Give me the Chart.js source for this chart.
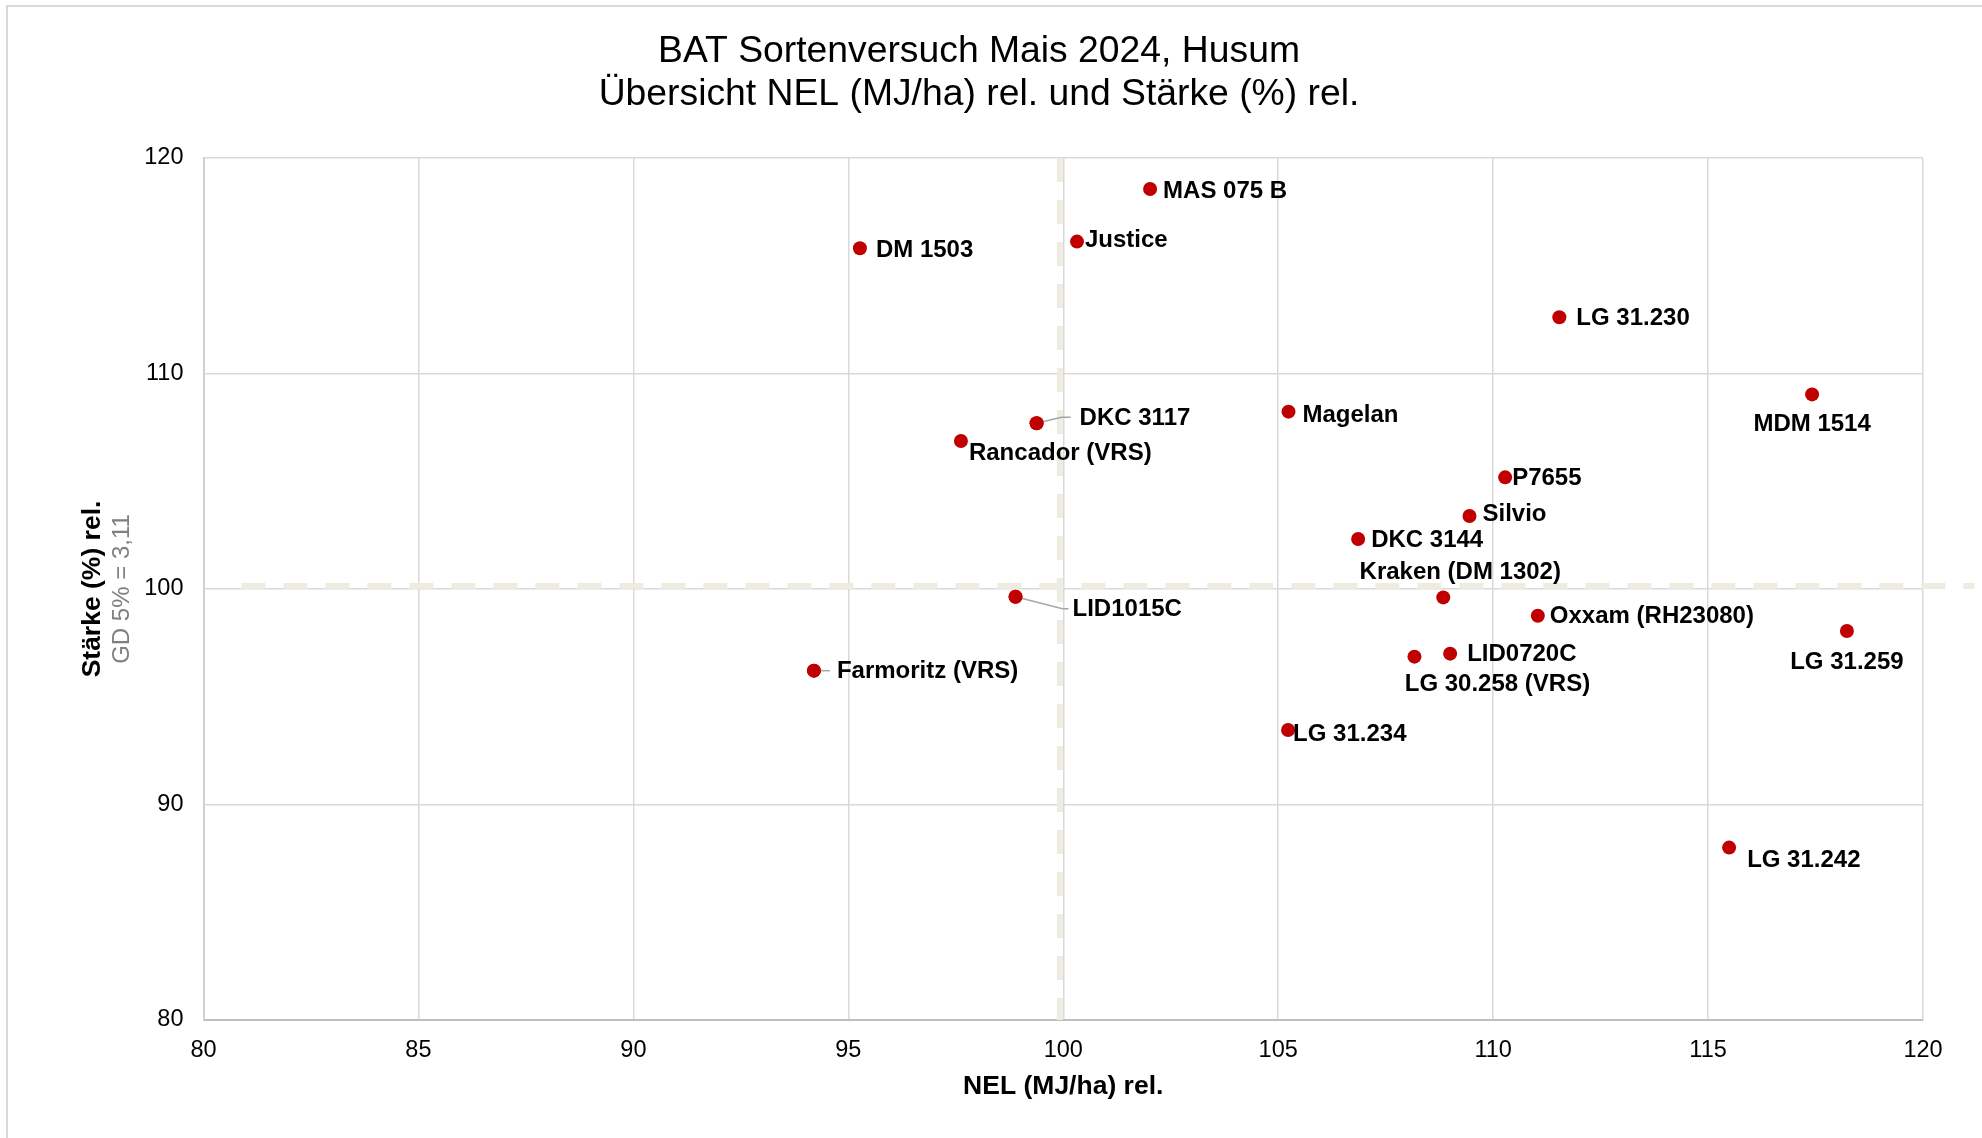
<!DOCTYPE html>
<html>
<head>
<meta charset="utf-8">
<script src="https://cdn.jsdelivr.net/npm/chart.js@4.4.1/dist/chart.umd.min.js"></script>
<style>
  html, body { margin: 0; padding: 0; background: #ffffff; }
  #wrap { width: 1982px; height: 1138px; }
</style>
</head>
<body>
<div id="wrap"><canvas id="c" width="1982" height="1138"></canvas></div>
<script>
// ---------------- DATA ----------------
const chartTitle = ["BAT Sortenversuch Mais 2024, Husum", "Übersicht NEL (MJ/ha) rel. und Stärke (%) rel."];
const xAxisTitle = "NEL (MJ/ha) rel.";
const yAxisTitle = "Stärke (%) rel.";
const ySubTitle = "GD 5% = 3,11";

const varieties = ["MAS 075 B", "Justice", "DM 1503", "LG 31.230", "MDM 1514", "Magelan", "DKC 3117",
  "Rancador (VRS)", "P7655", "Silvio", "DKC 3144", "Kraken (DM 1302)", "LID1015C", "Oxxam (RH23080)",
  "LG 31.259", "LID0720C", "LG 30.258 (VRS)", "Farmoritz (VRS)", "LG 31.234", "LG 31.242"];
const nelRel = [102.02, 100.32, 95.27, 111.54, 117.42, 105.24, 99.38,
  97.62, 110.28, 109.45, 106.86, 108.84, 98.89, 111.04,
  118.23, 109.00, 108.17, 94.20, 105.23, 115.49];
const staerkeRel = [118.56, 116.12, 115.81, 112.61, 109.03, 108.23, 107.69,
  106.87, 105.18, 103.39, 102.32, 99.61, 99.64, 98.76,
  98.05, 97.00, 96.86, 96.21, 93.46, 88.00];

// reference (mean) lines
const refNelX = [99.92, 99.92];
const refNelY = [120, 80];
const refStaerkeX = [80.88, 121.2];
const refStaerkeY = [100.14, 100.14];

const xTickValues = [80, 85, 90, 95, 100, 105, 110, 115, 120];
const yTickValues = [80, 90, 100, 110, 120];

// ---------------- STYLE: label placement (pixel offsets from marker) ----------------
const labelPlacement = {
  "MAS 075 B":        {dx: 13, dy: 1},
  "Justice":          {dx: 8,  dy: -2},
  "DM 1503":          {dx: 16, dy: 1},
  "LG 31.230":        {dx: 17, dy: 0},
  "MDM 1514":         {dx: 0,  dy: 29, align: "center"},
  "Magelan":          {dx: 14, dy: 3},
  "DKC 3117":         {dx: 43, dy: -6, leader: [[0,0],[25,-6],[34,-6]]},
  "Rancador (VRS)":   {dx: 8,  dy: 11},
  "P7655":            {dx: 7,  dy: 0},
  "Silvio":           {dx: 13, dy: -3},
  "DKC 3144":         {dx: 13, dy: 0},
  "Kraken (DM 1302)": {dx: 17, dy: -26, align: "center"},
  "LID1015C":         {dx: 57, dy: 12, leader: [[0,0],[47,12],[53,12]]},
  "Oxxam (RH23080)":  {dx: 12, dy: 0},
  "LG 31.259":        {dx: 0,  dy: 30, align: "center"},
  "LID0720C":         {dx: 17, dy: 0},
  "LG 30.258 (VRS)":  {dx: 83, dy: 27, align: "center"},
  "Farmoritz (VRS)":  {dx: 23, dy: 0, leader: [[0,0],[16,0]]},
  "LG 31.234":        {dx: 5,  dy: 3},
  "LG 31.242":        {dx: 18, dy: 12}
};

const FONT = "'Liberation Sans', Arial, Helvetica, sans-serif";
const GRID = "#d9d9d9";

// ---------------- PLUGINS ----------------
const frame = {
  id: "frame",
  beforeDraw(chart) {
    const ctx = chart.ctx;
    ctx.save();
    ctx.fillStyle = "#ffffff";
    ctx.fillRect(0, 0, chart.width, chart.height);
    ctx.strokeStyle = "#d9d9d9";
    ctx.lineWidth = 2;
    ctx.strokeRect(7, 6, chart.width + 10, chart.height + 10);
    ctx.restore();
  }
};

const titleText = {
  id: "titleText",
  afterDraw(chart) {
    const ctx = chart.ctx;
    ctx.save();
    ctx.font = "37.3px " + FONT;
    ctx.fillStyle = "#000000";
    ctx.textAlign = "center";
    ctx.textBaseline = "alphabetic";
    ctx.fillText(chartTitle[0], 979, 61.5);
    ctx.fillText(chartTitle[1], 979, 104.5);
    ctx.restore();
  }
};

const subTitle = {
  id: "subTitle",
  afterDraw(chart) {
    const ctx = chart.ctx;
    const a = chart.chartArea;
    ctx.save();
    ctx.translate(122, (a.top + a.bottom) / 2);
    ctx.rotate(-Math.PI / 2);
    ctx.font = "24px " + FONT;
    ctx.fillStyle = "#808080";
    ctx.textAlign = "center";
    ctx.textBaseline = "middle";
    ctx.fillText(ySubTitle, 0, 0);
    ctx.restore();
  }
};

const pointLabels = {
  id: "pointLabels",
  afterDatasetsDraw(chart) {
    const ctx = chart.ctx;
    const meta = chart.getDatasetMeta(0);
    ctx.save();
    meta.data.forEach((el, i) => {
      const name = varieties[i];
      const p = labelPlacement[name] || {dx: 12, dy: 0};
      const x = el.x, y = el.y;
      if (p.leader) {
        ctx.beginPath();
        ctx.strokeStyle = "#a6a6a6";
        ctx.lineWidth = 1.5;
        p.leader.forEach((q, k) => {
          if (k === 0) ctx.moveTo(x + q[0], y + q[1]);
          else ctx.lineTo(x + q[0], y + q[1]);
        });
        ctx.stroke();
        ctx.beginPath();
        ctx.fillStyle = "#c00000";
        ctx.arc(x, y, 7, 0, Math.PI * 2);
        ctx.fill();
      }
      ctx.font = "bold 24px " + FONT;
      ctx.fillStyle = "#000000";
      ctx.textAlign = p.align === "center" ? "center" : "left";
      ctx.textBaseline = "middle";
      ctx.fillText(name, x + p.dx, y + p.dy + 1);
    });
    ctx.restore();
  }
};

// ---------------- CHART ----------------
const points = nelRel.map((v, i) => ({x: v, y: staerkeRel[i]}));

new Chart(document.getElementById("c"), {
  type: "scatter",
  data: {
    datasets: [
      {
        label: "Sorten",
        data: points,
        backgroundColor: "#c00000",
        borderColor: "#c00000",
        pointRadius: 7,
        pointHoverRadius: 7,
        borderWidth: 0,
        order: 0
      },
      {
        type: "line",
        label: "Mittel NEL",
        data: refNelX.map((v, i) => ({x: v, y: refNelY[i]})),
        borderColor: "#eeece1",
        borderWidth: 6,
        borderDash: [24, 18],
        borderCapStyle: "butt",
        pointRadius: 0,
        fill: false,
        clip: false,
        order: 1
      },
      {
        type: "line",
        label: "Mittel Stärke",
        data: refStaerkeX.map((v, i) => ({x: v, y: refStaerkeY[i]})),
        borderColor: "#eeece1",
        borderWidth: 6,
        borderDash: [24, 18],
        borderCapStyle: "butt",
        pointRadius: 0,
        fill: false,
        clip: false,
        order: 1
      }
    ]
  },
  options: {
    responsive: false,
    devicePixelRatio: 1,
    animation: false,
    events: [],
    layout: { padding: { left: 0, right: 59, top: 158, bottom: 0 } },
    plugins: {
      legend: { display: false },
      tooltip: { enabled: false },
      title: { display: false }
    },
    scales: {
      x: {
        type: "linear",
        min: 80, max: 120,
        afterBuildTicks(scale) { scale.ticks = xTickValues.map(v => ({value: v})); },
        afterFit(scale) { scale.height = 118; },
        grid: { color: GRID, lineWidth: 1.5, drawTicks: false },
        border: { color: "#bfbfbf", width: 2 },
        ticks: { color: "#000000", font: { family: FONT, size: 23.5 }, padding: 16, maxRotation: 0 },
        title: {
          display: true, text: xAxisTitle, color: "#000000",
          font: { family: FONT, size: 26.5, weight: "bold", lineHeight: 1.2 },
          padding: { top: 0, bottom: 35 }
        }
      },
      y: {
        type: "linear",
        min: 80, max: 120,
        afterBuildTicks(scale) { scale.ticks = yTickValues.map(v => ({value: v})); },
        afterFit(scale) { scale.width = 203.5; },
        grid: { color: GRID, lineWidth: 1.5, drawTicks: false },
        border: { color: "#d0d0d0", width: 2 },
        ticks: { color: "#000000", font: { family: FONT, size: 23.5 }, padding: 20 },
        title: {
          display: true, text: yAxisTitle, color: "#000000",
          font: { family: FONT, size: 26.5, weight: "bold", lineHeight: 1.2 },
          padding: { top: 77, bottom: 0 }
        }
      }
    }
  },
  plugins: [frame, titleText, subTitle, pointLabels]
});
</script>
</body>
</html>
